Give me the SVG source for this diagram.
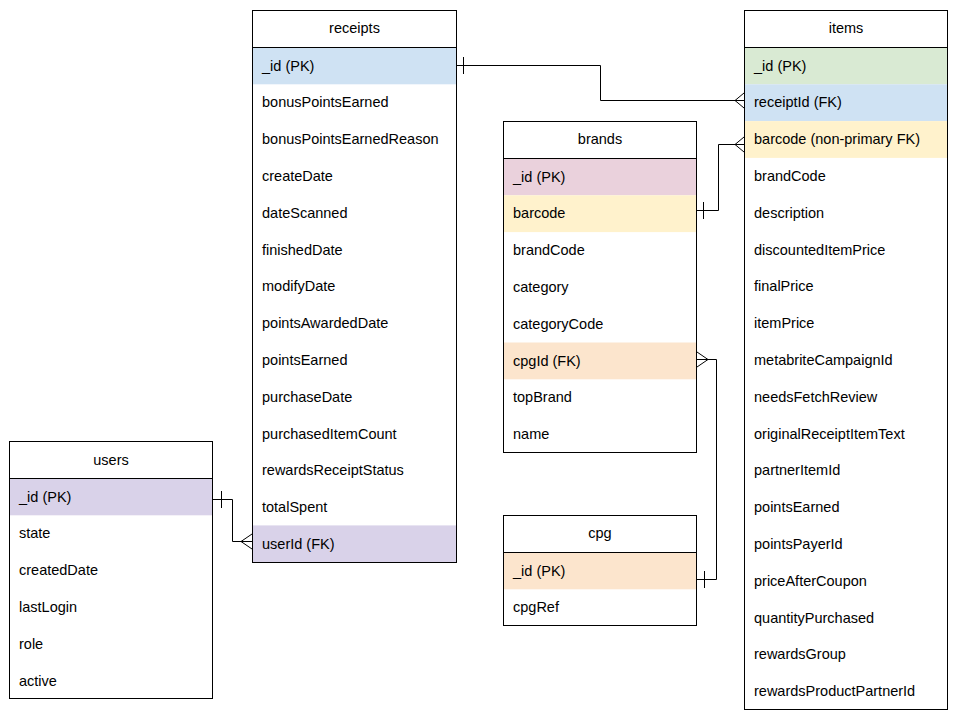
<svg xmlns="http://www.w3.org/2000/svg" width="960" height="720" viewBox="0 0 960 720">
<style>
.box{fill:#ffffff;stroke:#000000;stroke-width:1}
.hl{stroke:#000000;stroke-width:1}
.t{font-family:"Liberation Sans",Arial,sans-serif;font-size:14.5px;fill:#000000}
.h{text-anchor:middle}
.c{fill:none;stroke:#000000;stroke-width:1}
.blue{fill:#cfe2f3}.green{fill:#d9ead3}.yellow{fill:#fff2cc}.pink{fill:#ead1dc}.orange{fill:#fce5cd}.purple{fill:#d9d2e9}
</style>
<rect width="960" height="720" fill="#ffffff"/>
<g id="receipts">
<rect class="box" x="252.5" y="10.5" width="204" height="552"/>
<rect class="blue" x="253" y="47.5" width="203" height="36.8"/>
<rect class="purple" x="253" y="525.4" width="203" height="36.6"/>
<line class="hl" x1="252.5" y1="47.5" x2="456.5" y2="47.5"/>
<text class="t h" x="354.5" y="33">receipts</text>
<text class="t" x="262" y="70.5">_id (PK)</text>
<text class="t" x="262" y="107.3">bonusPointsEarned</text>
<text class="t" x="262" y="144.1">bonusPointsEarnedReason</text>
<text class="t" x="262" y="180.9">createDate</text>
<text class="t" x="262" y="217.7">dateScanned</text>
<text class="t" x="262" y="254.5">finishedDate</text>
<text class="t" x="262" y="291.3">modifyDate</text>
<text class="t" x="262" y="328.1">pointsAwardedDate</text>
<text class="t" x="262" y="364.9">pointsEarned</text>
<text class="t" x="262" y="401.7">purchaseDate</text>
<text class="t" x="262" y="438.5">purchasedItemCount</text>
<text class="t" x="262" y="475.3">rewardsReceiptStatus</text>
<text class="t" x="262" y="512.1">totalSpent</text>
<text class="t" x="262" y="548.9">userId (FK)</text>
</g>
<g id="items">
<rect class="box" x="744.5" y="10.5" width="203" height="699"/>
<rect class="green" x="745" y="47.5" width="202" height="36.8"/>
<rect class="blue" x="745" y="84.3" width="202" height="36.8"/>
<rect class="yellow" x="745" y="121.1" width="202" height="36.8"/>
<line class="hl" x1="744.5" y1="47.5" x2="947.5" y2="47.5"/>
<text class="t h" x="846" y="33">items</text>
<text class="t" x="754" y="70.5">_id (PK)</text>
<text class="t" x="754" y="107.3">receiptId (FK)</text>
<text class="t" x="754" y="144.1">barcode (non-primary FK)</text>
<text class="t" x="754" y="180.9">brandCode</text>
<text class="t" x="754" y="217.7">description</text>
<text class="t" x="754" y="254.5">discountedItemPrice</text>
<text class="t" x="754" y="291.3">finalPrice</text>
<text class="t" x="754" y="328.1">itemPrice</text>
<text class="t" x="754" y="364.9">metabriteCampaignId</text>
<text class="t" x="754" y="401.7">needsFetchReview</text>
<text class="t" x="754" y="438.5">originalReceiptItemText</text>
<text class="t" x="754" y="475.3">partnerItemId</text>
<text class="t" x="754" y="512.1">pointsEarned</text>
<text class="t" x="754" y="548.9">pointsPayerId</text>
<text class="t" x="754" y="585.7">priceAfterCoupon</text>
<text class="t" x="754" y="622.5">quantityPurchased</text>
<text class="t" x="754" y="659.3">rewardsGroup</text>
<text class="t" x="754" y="696.1">rewardsProductPartnerId</text>
</g>
<g id="brands">
<rect class="box" x="503.5" y="121.5" width="193" height="331"/>
<rect class="pink" x="504" y="158.5" width="192" height="36.8"/>
<rect class="yellow" x="504" y="195.3" width="192" height="36.8"/>
<rect class="orange" x="504" y="342.5" width="192" height="36.8"/>
<line class="hl" x1="503.5" y1="158.5" x2="696.5" y2="158.5"/>
<text class="t h" x="600" y="144">brands</text>
<text class="t" x="513" y="181.5">_id (PK)</text>
<text class="t" x="513" y="218.3">barcode</text>
<text class="t" x="513" y="255.1">brandCode</text>
<text class="t" x="513" y="291.9">category</text>
<text class="t" x="513" y="328.7">categoryCode</text>
<text class="t" x="513" y="365.5">cpgId (FK)</text>
<text class="t" x="513" y="402.3">topBrand</text>
<text class="t" x="513" y="439.1">name</text>
</g>
<g id="cpg">
<rect class="box" x="503.5" y="515.5" width="193" height="110"/>
<rect class="orange" x="504" y="552.5" width="192" height="36.8"/>
<line class="hl" x1="503.5" y1="552.5" x2="696.5" y2="552.5"/>
<text class="t h" x="600" y="538">cpg</text>
<text class="t" x="513" y="575.5">_id (PK)</text>
<text class="t" x="513" y="612.3">cpgRef</text>
</g>
<g id="users">
<rect class="box" x="9.5" y="441.5" width="203" height="257"/>
<rect class="purple" x="10" y="478.5" width="202" height="36.8"/>
<line class="hl" x1="9.5" y1="478.5" x2="212.5" y2="478.5"/>
<text class="t h" x="111" y="464.5">users</text>
<text class="t" x="19" y="501.5">_id (PK)</text>
<text class="t" x="19" y="538.3">state</text>
<text class="t" x="19" y="575.1">createdDate</text>
<text class="t" x="19" y="611.9">lastLogin</text>
<text class="t" x="19" y="648.7">role</text>
<text class="t" x="19" y="685.5">active</text>
</g>
<g id="connectors">
<polyline class="c" points="457,65.5 600.5,65.5 600.5,100.5 744,100.5"/>
<line class="c" x1="463.5" y1="57" x2="463.5" y2="74"/>
<polyline class="c" points="744,93 735,100.5 744,108"/>
<polyline class="c" points="697,210.5 718.5,210.5 718.5,144.5 744,144.5"/>
<line class="c" x1="703.5" y1="202" x2="703.5" y2="219"/>
<polyline class="c" points="744,137 735,144.5 744,152"/>
<polyline class="c" points="213,499.5 232.5,499.5 232.5,541.5 252,541.5"/>
<line class="c" x1="221.5" y1="491" x2="221.5" y2="508"/>
<polyline class="c" points="252,534 241,541.5 252,549"/>
<polyline class="c" points="697,359.5 716.5,359.5 716.5,579.5 697,579.5"/>
<polyline class="c" points="697,352 708,359.5 697,367"/>
<line class="c" x1="704.5" y1="571" x2="704.5" y2="588"/>
</g>
</svg>
